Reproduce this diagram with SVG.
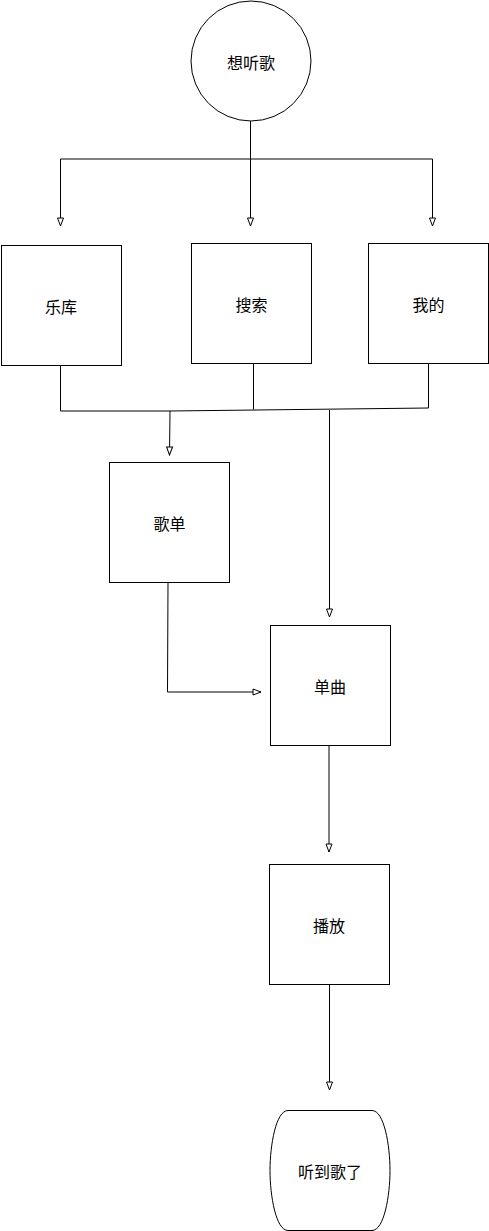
<svg xmlns="http://www.w3.org/2000/svg" width="489" height="1231" viewBox="0 0 489 1231">
<defs>
<marker id="arr" markerUnits="userSpaceOnUse" markerWidth="10" markerHeight="10" viewBox="0 0 10 10" refX="9" refY="5" orient="auto">
<path d="M1,2 L9,5 L1,8 Z" fill="#fff" stroke="#000" stroke-width="1"/>
</marker>
<style>
.n{fill:#fff;stroke:#000;stroke-width:1}
.t{font-family:"Noto Sans CJK SC","Noto Sans CJK JP",sans-serif;font-size:16px;fill:#000;text-anchor:middle;dominant-baseline:central}
.c{fill:none;stroke:#000;stroke-width:1}
</style>
</defs>
<rect width="489" height="1231" fill="#fff"/>
<g id="connectors">
<path class="c" d="M250.5,120 V159" />
<path class="c" d="M60.5,159 H432.5" />
<path class="c" d="M60.5,159 V226" marker-end="url(#arr)"/>
<path class="c" d="M250.5,159 V226" marker-end="url(#arr)"/>
<path class="c" d="M432.5,159 V226" marker-end="url(#arr)"/>
<path class="c" d="M60.5,365 V411 H170 L169.5,455" marker-end="url(#arr)"/>
<path class="c" d="M253.5,363.5 V409.5" />
<path class="c" d="M428.5,363.5 V408 L170,411" />
<path class="c" d="M329.5,410 V617" marker-end="url(#arr)"/>
<path class="c" d="M168,582 L167.5,692 H261" marker-end="url(#arr)"/>
<path class="c" d="M329,745.5 V852" marker-end="url(#arr)"/>
<path class="c" d="M329.5,984.5 V1090" marker-end="url(#arr)"/>
</g>
<g id="start">
<circle class="n" cx="251" cy="61" r="60"/>
<text class="t" x="251" y="62">想听歌</text>
</g>
<g id="yueku">
<rect class="n" x="1.5" y="245.5" width="120" height="120"/>
<text class="t" x="61" y="305.5">乐库</text>
</g>
<g id="sousuo">
<rect class="n" x="191.5" y="243.5" width="120" height="120"/>
<text class="t" x="251.5" y="303.5">搜索</text>
</g>
<g id="wode">
<rect class="n" x="368.5" y="243.5" width="120" height="120"/>
<text class="t" x="428.5" y="303.5">我的</text>
</g>
<g id="gedan">
<rect class="n" x="109.5" y="462.5" width="120" height="120"/>
<text class="t" x="169.5" y="522.5">歌单</text>
</g>
<g id="danqu">
<rect class="n" x="270.5" y="625.5" width="120" height="120"/>
<text class="t" x="330" y="685.5">单曲</text>
</g>
<g id="bofang">
<rect class="n" x="269.5" y="864.5" width="120" height="120"/>
<text class="t" x="329" y="924.5">播放</text>
</g>
<g id="end">
<path class="n" d="M288,1110.5 H372 C384,1110.5 390,1145 390,1170.5 C390,1196 384,1230.5 372,1230.5 H288 C276,1230.5 270,1196 270,1170.5 C270,1145 276,1110.5 288,1110.5 Z"/>
<text class="t" x="330" y="1171">听到歌了</text>
</g>
</svg>
